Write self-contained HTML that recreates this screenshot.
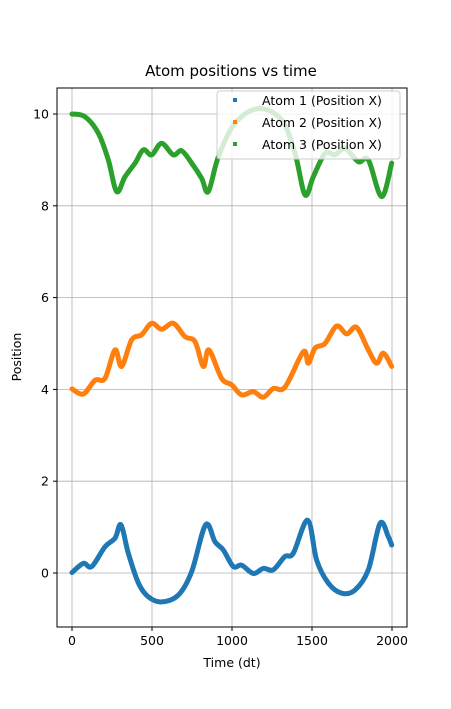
<!DOCTYPE html>
<html><head><meta charset="utf-8"><style>
body{margin:0;background:#fff}
svg{font-family:"DejaVu Sans","Liberation Sans",sans-serif}
</style></head><body>
<svg id="chart" width="451" height="704" viewBox="0 0 451 704"></svg>
<script>
const xTicks=[0,500,1000,1500,2000];
const yTicks=[0,2,4,6,8,10];
const seriesNames=["Atom 1 (Position X)","Atom 2 (Position X)","Atom 3 (Position X)"];
const atom1T=[0,71,123,206,269,306,352,415,477,560,665,748,835,894,946,1008,1060,1133,1196,1258,1331,1383,1473,1529,1602,1685,1769,1852,1925,1977,1998];
const atom1V=[0.01,0.21,0.14,0.57,0.76,1.05,0.43,-0.22,-0.52,-0.63,-0.48,0.03,1.05,0.68,0.5,0.14,0.17,-0.01,0.1,0.07,0.36,0.43,1.15,0.28,-0.22,-0.44,-0.37,0.07,1.08,0.79,0.61];
const atom2T=[0,71,144,206,269,310,373,435,498,560,633,706,769,821,856,935,998,1060,1133,1196,1258,1331,1446,1477,1519,1581,1654,1717,1779,1852,1904,1946,1998];
const atom2V=[4.01,3.9,4.2,4.24,4.86,4.5,5.08,5.19,5.44,5.31,5.44,5.15,5.04,4.5,4.86,4.24,4.1,3.88,3.95,3.83,4.02,4.05,4.82,4.57,4.9,5.0,5.38,5.21,5.35,4.86,4.57,4.79,4.5];
const atom3T=[0,81,165,227,279,331,394,446,498,560,633,685,748,810,852,915,1019,1165,1310,1394,1456,1508,1581,1644,1706,1790,1852,1935,1998];
const atom3V=[10,9.94,9.58,9.0,8.31,8.63,8.93,9.22,9.11,9.36,9.11,9.2,8.93,8.6,8.31,9.07,9.8,10.12,9.87,9.14,8.24,8.63,9.14,9.11,9.25,8.96,9.0,8.2,8.93];
const colors=["#1f77b4","#ff7f0e","#2ca02c"];
const L=57,R=407,T=88,B=627;
const xs=t=>72+t*0.16;
const ys=v=>573-v*45.9;
const svg=document.getElementById('chart');
const NS="http://www.w3.org/2000/svg";
function mk(tag,attrs,parent){const e=document.createElementNS(NS,tag);for(const k in attrs)e.setAttribute(k,attrs[k]);(parent||svg).appendChild(e);return e;}
xTicks.forEach(t=>{const l=mk('line',{x1:xs(t),x2:xs(t),y1:T,y2:B,stroke:'#b0b0b0','stroke-width':0.8});

});
yTicks.forEach(v=>{const l=mk('line',{x1:L,x2:R,y1:ys(v),y2:ys(v),stroke:'#b0b0b0','stroke-width':0.8});

});
function smoothPath(T_,V_){const p=T_.map((t,i)=>[xs(t),ys(V_[i])]);let d=`M${p[0][0]},${p[0][1]}`;
for(let i=0;i<p.length-1;i++){const p0=p[Math.max(0,i-1)],p1=p[i],p2=p[i+1],p3=p[Math.min(p.length-1,i+2)];
const c1=[p1[0]+(p2[0]-p0[0])/6,p1[1]+(p2[1]-p0[1])/6],c2=[p2[0]-(p3[0]-p1[0])/6,p2[1]-(p3[1]-p1[1])/6];
d+=` C${c1[0]},${c1[1]} ${c2[0]},${c2[1]} ${p2[0]},${p2[1]}`;}return d;}
[[atom1T,atom1V],[atom2T,atom2V],[atom3T,atom3V]].forEach((s,i)=>{
const p=mk('path',{d:smoothPath(s[0],s[1]),fill:'none',stroke:colors[i],'stroke-width':5,'stroke-linecap':'round','stroke-linejoin':'round'});

});
const fr=mk('rect',{x:L,y:T,width:R-L,height:B-T,fill:'none',stroke:'#000','stroke-width':1});


xTicks.forEach(t=>{mk('line',{x1:xs(t),x2:xs(t),y1:B,y2:B+4,stroke:'#000'});
const tx=mk('text',{x:xs(t),y:B+18,'font-size':12.5,'text-anchor':'middle'});tx.textContent=t;

});
yTicks.forEach(v=>{mk('line',{x1:L-4,x2:L,y1:ys(v),y2:ys(v),stroke:'#000'});
const tx=mk('text',{x:L-8,y:ys(v)+4.5,'font-size':12.5,'text-anchor':'end'});tx.textContent=v;

});
const lg=mk('g',{});


mk('rect',{x:217,y:91,width:183,height:68,rx:3,fill:'#fff','fill-opacity':0.8,stroke:'#ccc'},lg);
seriesNames.forEach((n,i)=>{mk('rect',{x:233,y:98+i*22,width:4,height:4,fill:colors[i]},lg);
const tx=mk('text',{x:262,y:105+i*22,'font-size':12.5},lg);tx.textContent=n;

});
</script>
<div style="position:absolute;left:0;top:0;width:451px;height:704px;pointer-events:none">
<svg width="451" height="704" style="position:absolute;left:0;top:0;font-family:'DejaVu Sans','Liberation Sans',sans-serif">
<text x="231" y="76" font-size="15" text-anchor="middle">Atom positions vs time</text>
<text x="232" y="667" font-size="12.5" text-anchor="middle">Time (dt)</text>
<text x="21" y="357" font-size="12.5" text-anchor="middle" transform="rotate(-90 21 357)">Position</text>
</svg></div>
</body></html>
